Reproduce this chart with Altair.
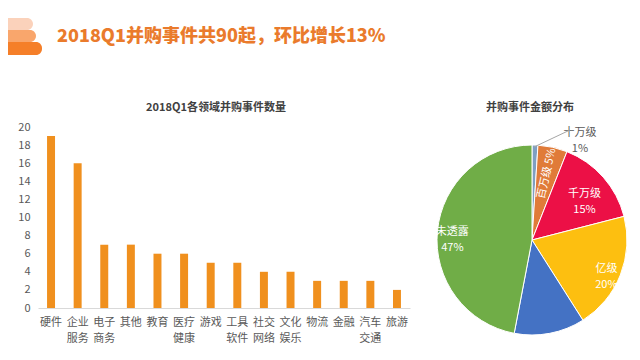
import altair as alt
import pandas as pd

FONT = "Noto Sans CJK SC"

# ---- data ----
categories = ["硬件", "企业服务", "电子商务", "其他", "教育", "医疗健康", "游戏",
              "工具软件", "社交网络", "文化娱乐", "物流", "金融", "汽车交通", "旅游"]
counts = [19, 16, 7, 7, 6, 6, 5, 5, 4, 4, 3, 3, 3, 2]

tiers = ["十万级", "百万级", "千万级", "亿级", "十亿级", "未透露"]
shares = [1, 5, 15, 20, 12, 47]
tier_colors = ["#7f9fc2", "#e07b39", "#ec1046", "#fdbf10", "#4472c4", "#70ad47"]

main_title = "2018Q1并购事件共90起，环比增长13%"
bar_title = "2018Q1各领域并购事件数量"
pie_title = "并购事件金额分布"

bar_df = pd.DataFrame({"cat": categories, "count": counts})
pie_df = pd.DataFrame({"tier": tiers, "share": shares, "idx": list(range(len(tiers)))})
one = pd.DataFrame({"a": [0]})

# ---- header decoration + titles (drawn in the bar panel, above its plot) ----
deco_colors = ["#fbd2bb", "#f9a66c", "#f57f29"]
deco = []
for (y0, y1, x1), c in zip([(-109, -97, -5), (-97, -85, -2), (-85, -72, 4)], deco_colors):
    deco.append(alt.Chart(one).mark_rect(color=c, cornerRadiusTopRight=6, cornerRadiusBottomRight=6).encode(
        x=alt.value(-30), x2=alt.value(x1), y=alt.value(y0), y2=alt.value(y1)))

head = alt.Chart(one).mark_text(align="left", baseline="middle", font=FONT, fontSize=18,
                                fontWeight=900, color="#ea7b2c").encode(
    x=alt.value(19), y=alt.value(-90), text=alt.value(main_title))

bar_head = alt.Chart(one).mark_text(align="center", baseline="middle", font=FONT, fontSize=11,
                                    fontWeight="bold", color="#404040").encode(
    x=alt.value(178), y=alt.value(-19), text=alt.value(bar_title))

# ---- bar panel ----
bars = alt.Chart(bar_df).mark_bar(color="#f0901e").encode(
    x=alt.X("cat:N", sort=categories, title=None,
            scale=alt.Scale(paddingInner=0.7, paddingOuter=0.34),
            axis=alt.Axis(labelAngle=0, ticks=False, domainColor="#d9d9d9",
                          labelPadding=8, labelFontSize=11, labelColor="#595959",
                          labelLineHeight=16, labelFont=FONT,
                          labelExpr="length(datum.label) > 2 ? [substring(datum.label,0,2), substring(datum.label,2)] : datum.label")),
    y=alt.Y("count:Q", title=None, scale=alt.Scale(domain=[0, 20]),
            axis=alt.Axis(values=list(range(0, 21, 2)), grid=False, domain=False, ticks=False,
                          labelPadding=8, labelFontSize=11, labelColor="#595959", labelFont=FONT)),
)

left = alt.layer(*deco, head, bar_head, bars).properties(width=372, height=181)

# ---- pie panel ----
arcs = alt.Chart(pie_df).mark_arc(outerRadius=95, stroke="white", strokeWidth=1).encode(
    theta=alt.Theta("share:Q", stack=True, scale=alt.Scale(domain=[0, 100])),
    order=alt.Order("idx:Q"),
    color=alt.Color("tier:N", scale=alt.Scale(domain=tiers, range=tier_colors), legend=None),
    x=alt.value(100), y=alt.value(113),
)

lbl_base = alt.Chart(pie_df).transform_window(
    cum="sum(share)", sort=[alt.SortField("idx")], frame=[None, 0]
).transform_calculate(mid="datum.cum - datum.share / 2")


def lbl(names, expr, **kw):
    cond = " || ".join("datum.tier == '%s'" % n for n in names)
    return lbl_base.transform_filter(cond).transform_calculate(t=expr).mark_text(
        font=FONT, fontSize=11, lineBreak="\n", lineHeight=16, baseline="middle", **kw
    ).encode(
        theta=alt.Theta("mid:Q", stack=False, scale=alt.Scale(domain=[0, 100])),
        x=alt.value(100), y=alt.value(113),
        text="t:N",
    )


two_line = "datum.tier + '\\n' + datum.share + '%'"
t_mid = lbl(["千万级"], two_line, radius=70, color="white")
t_out = lbl(["亿级", "未透露"], two_line, radius=80, color="white")
t_rot = lbl(["百万级"], "datum.tier + ' ' + datum.share + '%'", radius=68, color="white", angle=283)
t_small = lbl(["十万级"], two_line, radius=95, color="#595959", dx=45, dy=-12)

leader = alt.Chart(one).mark_rule(color="#a6a6a6", strokeWidth=1).encode(
    x=alt.value(102), x2=alt.value(138), y=alt.value(20), y2=alt.value(3))
pie_head = alt.Chart(one).mark_text(align="center", baseline="middle", font=FONT, fontSize=11,
                                    fontWeight="bold", color="#404040").encode(
    x=alt.value(98), y=alt.value(-19), text=alt.value(pie_title))

right = alt.layer(arcs, t_mid, t_out, t_rot, t_small, leader, pie_head).properties(
    width=190, height=212)

chart = alt.hconcat(left, right, spacing=22, bounds="flush").properties(
    padding={"left": 0, "top": 10, "right": 0, "bottom": 0}
).configure(background="white").configure_view(strokeWidth=0, stroke="transparent")

chart.save("out.html", embed_options={"renderer": "svg", "actions": False})
